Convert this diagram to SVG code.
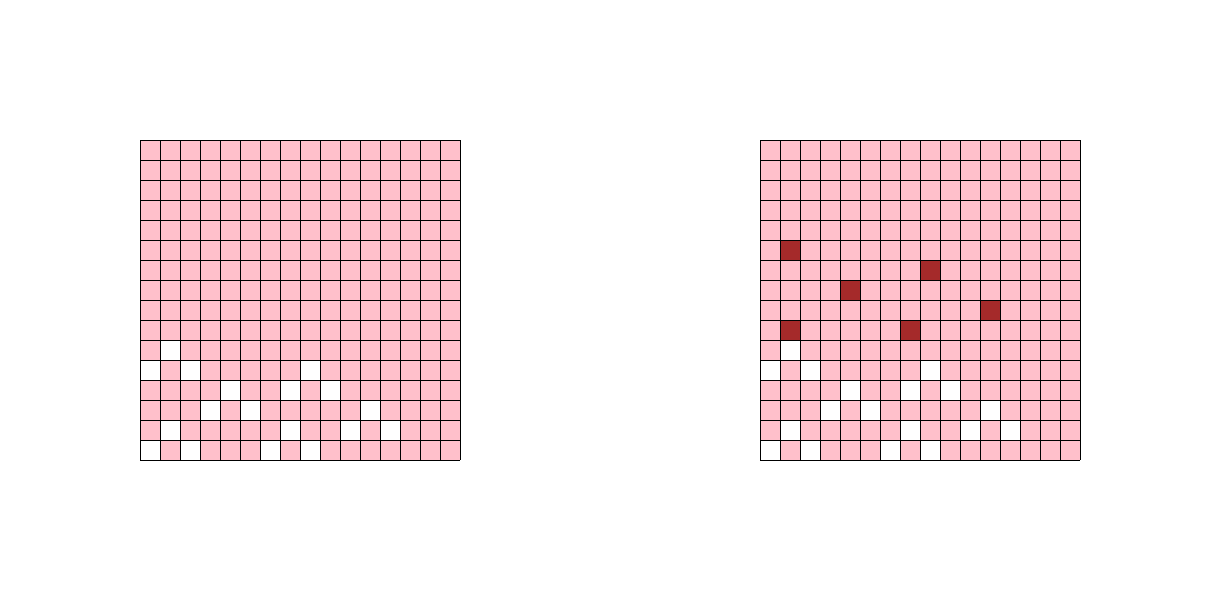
<svg xmlns="http://www.w3.org/2000/svg" xmlns:xlink="http://www.w3.org/1999/xlink" width="1220" height="600" viewBox="0 0 1220 600">
<style>
.bg{fill:#ffc0cb}
.w{fill:#ffffff}
.d{fill:#a52a2a}
.grid{fill:none;stroke:#000;stroke-width:1;shape-rendering:crispEdges}
</style>
<defs>
<path id="lines" class="grid" d="M0 0V320M20 0V320M40 0V320M60 0V320M80 0V320M100 0V320M120 0V320M140 0V320M160 0V320M180 0V320M200 0V320M220 0V320M240 0V320M260 0V320M280 0V320M300 0V320M320 0V320M0 0H320M0 20H320M0 40H320M0 60H320M0 80H320M0 100H320M0 120H320M0 140H320M0 160H320M0 180H320M0 200H320M0 220H320M0 240H320M0 260H320M0 280H320M0 300H320M0 320H320"/>
<g id="whites" class="w">
<rect x="20" y="200" width="20" height="20"/>
<rect x="0" y="220" width="20" height="20"/>
<rect x="40" y="220" width="20" height="20"/>
<rect x="160" y="220" width="20" height="20"/>
<rect x="80" y="240" width="20" height="20"/>
<rect x="140" y="240" width="20" height="20"/>
<rect x="180" y="240" width="20" height="20"/>
<rect x="60" y="260" width="20" height="20"/>
<rect x="100" y="260" width="20" height="20"/>
<rect x="220" y="260" width="20" height="20"/>
<rect x="20" y="280" width="20" height="20"/>
<rect x="140" y="280" width="20" height="20"/>
<rect x="200" y="280" width="20" height="20"/>
<rect x="240" y="280" width="20" height="20"/>
<rect x="0" y="300" width="20" height="20"/>
<rect x="40" y="300" width="20" height="20"/>
<rect x="120" y="300" width="20" height="20"/>
<rect x="160" y="300" width="20" height="20"/>
</g>
</defs>
<g id="grid-left" transform="translate(140,140)">
<rect class="bg" x="0" y="0" width="320" height="320"/>
<use xlink:href="#whites"/>
<use xlink:href="#lines"/>
</g>
<g id="grid-right" transform="translate(760,140)">
<rect class="bg" x="0" y="0" width="320" height="320"/>
<use xlink:href="#whites"/>
<g class="d">
<rect x="20" y="100" width="20" height="20"/>
<rect x="160" y="120" width="20" height="20"/>
<rect x="80" y="140" width="20" height="20"/>
<rect x="220" y="160" width="20" height="20"/>
<rect x="20" y="180" width="20" height="20"/>
<rect x="140" y="180" width="20" height="20"/>
</g>
<use xlink:href="#lines"/>
</g>
</svg>
